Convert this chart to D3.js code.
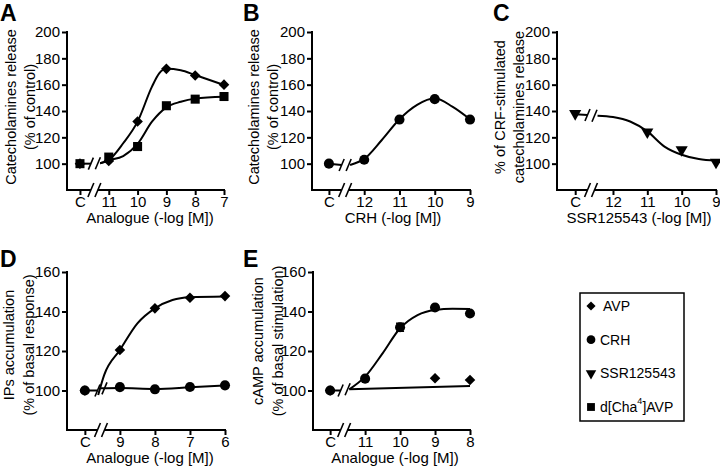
<!DOCTYPE html>
<html>
<head>
<meta charset="utf-8">
<script src="https://cdnjs.cloudflare.com/ajax/libs/d3/7.8.5/d3.min.js"></script>
<style>
  body { margin: 0; background: #fff; }
  text { font-family: "Liberation Sans", Arial, sans-serif; fill: #000; }
</style>
</head>
<body>
<div id="chart"></div>
<script>
// ======= panel A : catecholamines release, AVP and d[Cha4]AVP
var aTickVals = [12, 11, 10, 9, 8, 7];
var aTickLabels = ["C", "11", "10", "9", "8", "7"];
var aAvpY = [100, 102, 132, 172, 167, 160];
var aChaY = [100, 105, 113, 144, 149, 151];
var aAvpFitX = [11.3, 11, 10.5, 10, 9.5, 9.25, 9, 8.5, 8, 7.5, 7];
var aAvpFitY = [100.3, 102.8, 115.5, 131.9, 158.5, 168.6, 172, 171, 167.3, 163.5, 159.8];
var aChaFitX = [11.3, 11, 10.5, 10, 9.5, 9, 8.5, 8, 7];
var aChaFitY = [100.3, 102.5, 105.8, 115, 131.9, 142.8, 147, 149.4, 150.9];

// ======= panel B : catecholamines release, CRH
var bTickVals = [13, 12, 11, 10, 9];
var bTickLabels = ["C", "12", "11", "10", "9"];
var bCrhY = [100, 103, 133.5, 149, 133.5];
var bCrhFitX = [12.4, 12, 11.5, 11, 10.5, 10, 9.5, 9];
var bCrhFitY = [99, 103.6, 118, 133.7, 144.6, 149.6, 143.3, 133.7];

// ======= panel C : SSR125543 on CRF-stimulated release
var cTickVals = [13.1, 12, 11, 10, 9];
var cTickLabels = ["C", "12", "11", "10", "9"];
var cSsrX = [13.1, 11, 10, 9];
var cSsrY = [138, 124, 110.5, 101];
var cSsrFitX = [12.45, 12, 11.5, 11, 10.5, 10, 9.5, 9];
var cSsrFitY = [136.4, 135.4, 132, 124.5, 113, 106.8, 103.5, 102.3];

// ======= panel D : IPs accumulation
var dTickVals = [10, 9, 8, 7, 6];
var dTickLabels = ["C", "9", "8", "7", "6"];
var dAvpY = [100, 120.5, 141.6, 147, 147.8];
var dCrhY = [100, 101.7, 100.6, 101.8, 102.6];
var dAvpFitX = [9.62, 9.45, 9, 8.5, 8, 7.5, 7, 6];
var dAvpFitY = [97.7, 107.8, 120.5, 134, 141.6, 145.8, 147.2, 147.6];
var dCrhFitX = [9.55, 9, 8, 7, 6];
var dCrhFitY = [101.1, 101.3, 100.8, 101.6, 102.5];

// ======= panel E : cAMP accumulation
var eTickVals = [12, 11, 10, 9, 8];
var eTickLabels = ["C", "11", "10", "9", "8"];
var eCrhY = [100, 106, 132, 142, 139];
var eCrhErr = [0, 0, 2, 0, 0];
var eAvpX = [12, 9, 8];
var eAvpY = [100, 106.2, 105.3];
var eCrhFitX = [11.45, 11, 10.5, 10, 9.5, 9, 8.5, 8];
var eCrhFitY = [100.6, 107, 118.8, 131.5, 138.2, 140.8, 141.4, 141.3];
var eAvpFitX = [11.45, 8];
var eAvpFitY = [100.6, 102.3];

var legendNames = ["AVP", "CRH", "SSR125543", "d[Cha4]AVP"];
var legendShapes = ["diamond", "circle", "triangle", "square"];

var svg = d3.select("#chart").append("svg")
  .attr("width", 720)
  .attr("height", 470);

// ======= marker shapes
var shapeDefs = {
  diamond: { type: d3.symbolSquare, size: 56, rot: 45 },
  square: { type: d3.symbolSquare, size: 82, rot: 0 },
  circle: { type: d3.symbolCircle, size: 80, rot: 0 },
  triangle: { type: d3.symbolTriangle, size: 64, rot: 180 }
};

function drawMarkers(g, x, y, xs, ys, shape) {
  var s = shapeDefs[shape];
  g.selectAll(null)
    .data(d3.zip(xs, ys))
    .enter()
    .append("path")
    .attr("d", d3.symbol().type(s.type).size(s.size))
    .attr("fill", "#000")
    .attr("transform", function(d) {
      return "translate(" + x(d[0]) + "," + y(d[1]) + ") rotate(" + s.rot + ")";
    });
}

function slash(g, px, py, h) {
  g.append("line")
    .attr("x1", px - h * 0.42).attr("y1", py + h)
    .attr("x2", px + h * 0.42).attr("y2", py - h)
    .attr("stroke", "#000").attr("stroke-width", 1.6);
}

// ======= one panel
function drawPanel(p) {
  var g = svg.append("g");
  var x = d3.scaleLinear().domain(p.xDomain).range(p.xRange);
  var y = d3.scaleLinear().domain(p.yDomain).range(p.yRange);

  // y axis
  var yAx = g.append("g")
    .attr("transform", "translate(" + p.xRange[0] + ",0)")
    .call(d3.axisLeft(y).tickValues(p.yTicks).tickSize(5).tickPadding(2));
  yAx.select(".domain").remove();
  yAx.selectAll(".tick line").attr("stroke-width", 2);
  yAx.selectAll("text").attr("font-size", "15px").attr("font-family", "Liberation Sans, Arial, sans-serif");
  g.append("line")
    .attr("x1", p.xRange[0]).attr("x2", p.xRange[0])
    .attr("y1", p.yRange[1] - 1).attr("y2", p.yRange[0] + 1)
    .attr("stroke", "#000").attr("stroke-width", 2);

  // x axis, broken between C and the doses
  var xAx = g.append("g")
    .attr("transform", "translate(0," + p.yRange[0] + ")")
    .call(d3.axisBottom(x).tickValues(p.xTicks)
      .tickFormat(function(d, i) { return p.xLabels[i]; })
      .tickSize(5).tickPadding(1));
  xAx.select(".domain").remove();
  xAx.selectAll(".tick line").attr("stroke-width", 2);
  xAx.selectAll("text").attr("font-size", "15px").attr("font-family", "Liberation Sans, Arial, sans-serif");

  var bx = x(p.brk);
  g.append("line")
    .attr("x1", p.xRange[0] - 1).attr("x2", bx - 3.5)
    .attr("y1", p.yRange[0]).attr("y2", p.yRange[0])
    .attr("stroke", "#000").attr("stroke-width", 2);
  g.append("line")
    .attr("x1", bx + 3.5).attr("x2", p.xRange[1] + 1)
    .attr("y1", p.yRange[0]).attr("y2", p.yRange[0])
    .attr("stroke", "#000").attr("stroke-width", 2);
  slash(g, bx - 3.5, p.yRange[0], 7);
  slash(g, bx + 3.5, p.yRange[0], 7);

  // series
  p.series.forEach(function(s) {
    var line = d3.line()
      .x(function(d) { return x(d[0]); })
      .y(function(d) { return y(d[1]); })
      .curve(d3.curveMonotoneX);
    g.append("path")
      .datum(d3.zip(s.fitX, s.fitY))
      .attr("d", line)
      .attr("fill", "none")
      .attr("stroke", "#000")
      .attr("stroke-width", 2);
    if (s.cVal !== undefined) {
      g.append("line")
        .attr("x1", x(p.xTicks[0])).attr("x2", bx - 3.5)
        .attr("y1", y(s.cVal)).attr("y2", y(s.cEnd))
        .attr("stroke", "#000").attr("stroke-width", 2);
      slash(g, bx - 3.5, y(s.cEnd), 6);
      slash(g, bx + 3.5, y(s.fitY[0]), 6);
    }
    if (s.err) {
      s.err.forEach(function(e, i) {
        if (!e) return;
        var cx = x(s.x[i]);
        g.append("path")
          .attr("d", "M" + (cx - 4) + "," + y(s.y[i] + e) + "h8M" + cx + "," + y(s.y[i] + e) +
            "V" + y(s.y[i] - e) + "M" + (cx - 4) + "," + y(s.y[i] - e) + "h8")
          .attr("stroke", "#000").attr("stroke-width", 1.5).attr("fill", "none");
      });
    }
  });
  p.series.forEach(function(s) {
    drawMarkers(g, x, y, s.x, s.y, s.shape);
  });

  // labels
  g.append("text")
    .attr("x", p.letter[0]).attr("y", p.letter[1])
    .attr("font-size", "23px").attr("font-weight", "bold")
    .text(p.id);
  g.append("text")
    .attr("x", p.xTitle[0]).attr("y", p.xTitle[1])
    .attr("text-anchor", "middle")
    .attr("font-size", "15px")
    .text(p.xTitleText);
  p.yTitleText.forEach(function(t, i) {
    g.append("text")
      .attr("transform", "translate(" + p.yTitleX[i] + "," + p.yTitleY + ") rotate(-90)")
      .attr("text-anchor", "middle")
      .attr("dominant-baseline", "central")
      .attr("font-size", "14.5px")
      .text(t);
  });
}

var topRange = [190, 32];
var botRange = [430, 272];

drawPanel({
  id: "A", letter: [0, 21],
  xDomain: [12.45, 7], xRange: [67, 224], yDomain: [80, 200], yRange: topRange,
  yTicks: [100, 120, 140, 160, 180, 200], xTicks: aTickVals, xLabels: aTickLabels, brk: 11.5,
  xTitle: [150, 223], xTitleText: "Analogue (-log [M])",
  yTitleText: ["Catecholamines release", "(% of control)"], yTitleX: [11, 30], yTitleY: 107,
  series: [
    { x: aTickVals, y: aAvpY, fitX: aAvpFitX, fitY: aAvpFitY, shape: "diamond" },
    { x: aTickVals, y: aChaY, fitX: aChaFitX, fitY: aChaFitY, shape: "square", cVal: 100, cEnd: 100 }
  ]
});

drawPanel({
  id: "B", letter: [243, 21],
  xDomain: [13.48, 9], xRange: [312, 470], yDomain: [80, 200], yRange: topRange,
  yTicks: [100, 120, 140, 160, 180, 200], xTicks: bTickVals, xLabels: bTickLabels, brk: 12.54,
  xTitle: [393, 223], xTitleText: "CRH (-log [M])",
  yTitleText: ["Catecholamines release", "(% of control)"], yTitleX: [254, 273], yTitleY: 107,
  series: [
    { x: bTickVals, y: bCrhY, fitX: bCrhFitX, fitY: bCrhFitY, shape: "circle", cVal: 100, cEnd: 99 }
  ]
});

drawPanel({
  id: "C", letter: [493, 21],
  xDomain: [13.63, 9], xRange: [557, 716], yDomain: [80, 200], yRange: topRange,
  yTicks: [100, 120, 140, 160, 180, 200], xTicks: cTickVals, xLabels: cTickLabels, brk: 12.64,
  xTitle: [639, 223], xTitleText: "SSR125543 (-log [M])",
  yTitleText: ["% of CRF-stimulated", "catecholamines release"], yTitleX: [500, 519], yTitleY: 107,
  series: [
    { x: cSsrX, y: cSsrY, fitX: cSsrFitX, fitY: cSsrFitY, shape: "triangle", cVal: 137.5, cEnd: 137 }
  ]
});

drawPanel({
  id: "D", letter: [0, 267],
  xDomain: [10.51, 6], xRange: [67, 225], yDomain: [80, 160], yRange: botRange,
  yTicks: [100, 120, 140, 160], xTicks: dTickVals, xLabels: dTickLabels, brk: 9.54,
  xTitle: [150, 463], xTitleText: "Analogue (-log [M])",
  yTitleText: ["IPs accumulation", "(% of basal response)"], yTitleX: [9, 29], yTitleY: 345,
  series: [
    { x: dTickVals, y: dAvpY, fitX: dAvpFitX, fitY: dAvpFitY, shape: "diamond" },
    { x: dTickVals, y: dCrhY, fitX: dCrhFitX, fitY: dCrhFitY, shape: "circle", cVal: 100, cEnd: 100 }
  ]
});

drawPanel({
  id: "E", letter: [243, 267],
  xDomain: [12.49, 8], xRange: [313, 470], yDomain: [80, 160], yRange: botRange,
  yTicks: [100, 120, 140, 160], xTicks: eTickVals, xLabels: eTickLabels, brk: 11.6,
  xTitle: [395, 463], xTitleText: "Analogue (-log [M])",
  yTitleText: ["cAMP accumulation", "(% of basal stimulation)"], yTitleX: [258, 278], yTitleY: 341,
  series: [
    { x: eAvpX, y: eAvpY, fitX: eAvpFitX, fitY: eAvpFitY, shape: "diamond" },
    { x: eTickVals, y: eCrhY, err: eCrhErr, fitX: eCrhFitX, fitY: eCrhFitY, shape: "circle", cVal: 100, cEnd: 100 }
  ]
});

// ======= legend box
var leg = svg.append("g");
leg.append("rect")
  .attr("x", 580).attr("y", 293)
  .attr("width", 104).attr("height", 128)
  .attr("fill", "none").attr("stroke", "#000").attr("stroke-width", 1.5);

var legY = d3.scalePoint().domain(legendNames).range([306, 407]);
legendNames.forEach(function(n, i) {
  var s = shapeDefs[legendShapes[i]];
  leg.append("path")
    .attr("d", d3.symbol().type(s.type).size(s.size * 0.75))
    .attr("transform", "translate(591," + legY(n) + ") rotate(" + s.rot + ")");
  var t = leg.append("text")
    .attr("x", i === 0 ? 603 : 600).attr("y", legY(n))
    .attr("dominant-baseline", "central")
    .attr("font-size", "14px");
  if (n === "d[Cha4]AVP") {
    t.append("tspan").text("d[Cha");
    t.append("tspan").attr("font-size", "9px").attr("dy", -6).text("4");
    t.append("tspan").attr("dy", 6).text("]AVP");
  } else {
    t.text(n);
  }
});
</script>
</body>
</html>
